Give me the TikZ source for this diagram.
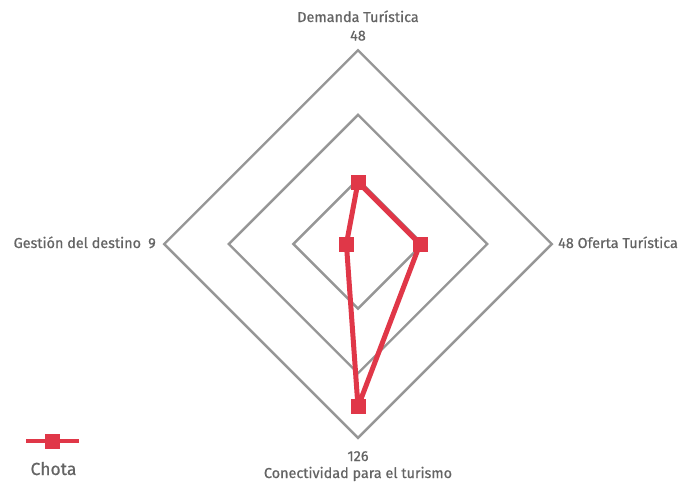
\documentclass[tikz,border=0pt]{standalone}
\usepackage{fontspec}
\setmainfont{Fira Sans}[FakeBold=0.7]
\usetikzlibrary{calc}
\definecolor{serie}{RGB}{224,55,72}
\definecolor{rejilla}{RGB}{150,150,150}
\definecolor{texto}{RGB}{100,100,100}
\begin{document}
\begin{tikzpicture}[x=1pt,y=-1pt,
  ring/.style={draw=rejilla,line width=2.4pt,line join=miter},
  serieline/.style={draw=serie,line width=5pt,line join=round},
  marker/.style={rectangle,fill=serie,minimum size=15pt,inner sep=0pt},
  lbl/.style={text=texto,font=\fontsize{14.4pt}{16pt}\selectfont,inner sep=0pt}]
\useasboundingbox (0,0) rectangle (682,483);
\coordinate (c) at (358,244);
% grid diamonds
\foreach \r in {64.6,129.2,193.8}{
  \draw[ring] ($(c)+(0,-\r)$) -- ($(c)+(\r,0)$) -- ($(c)+(0,\r)$) -- ($(c)+(-\r,0)$) -- cycle;
}
% data points (max 150 -> 193.8)
\coordinate (pt) at (358,182.0);
\coordinate (pr) at (420.0,244);
\coordinate (pb) at (358,406.8);
\coordinate (pl) at (346.4,244);
\draw[serieline] (pt) -- (pr) -- (pb) -- (pl) -- cycle;
\node[marker] (mt) at (pt) {};
\node[marker] (mr) at (pr) {};
\node[marker] (mb) at (pb) {};
\node[marker] (ml) at (pl) {};
% labels
\node[lbl,anchor=base] (lt1) at (358,22) {Demanda Turística};
\node[lbl,anchor=base] (lt2) at (358,40.5) {48};
\node[lbl,anchor=base east] (ll) at (156,248) {Gestión del destino\enspace 9};
\node[lbl,anchor=base west] (lr) at (558,248) {48 Oferta Turística};
\node[lbl,anchor=base] (lb1) at (358,461) {126};
\node[lbl,anchor=base] (lb2) at (358,478) {Conectividad para el turismo};
% legend
\coordinate (g1) at (26,441);
\coordinate (g2) at (79,441);
\draw[draw=serie,line width=4pt] (g1) -- (g2);
\node[marker] (gm) at (52.5,441) {};
\node[lbl,anchor=base,font=\fontsize{17.5pt}{19pt}\selectfont] (gl) at (53.5,475) {Chota};
\end{tikzpicture}
\end{document}
